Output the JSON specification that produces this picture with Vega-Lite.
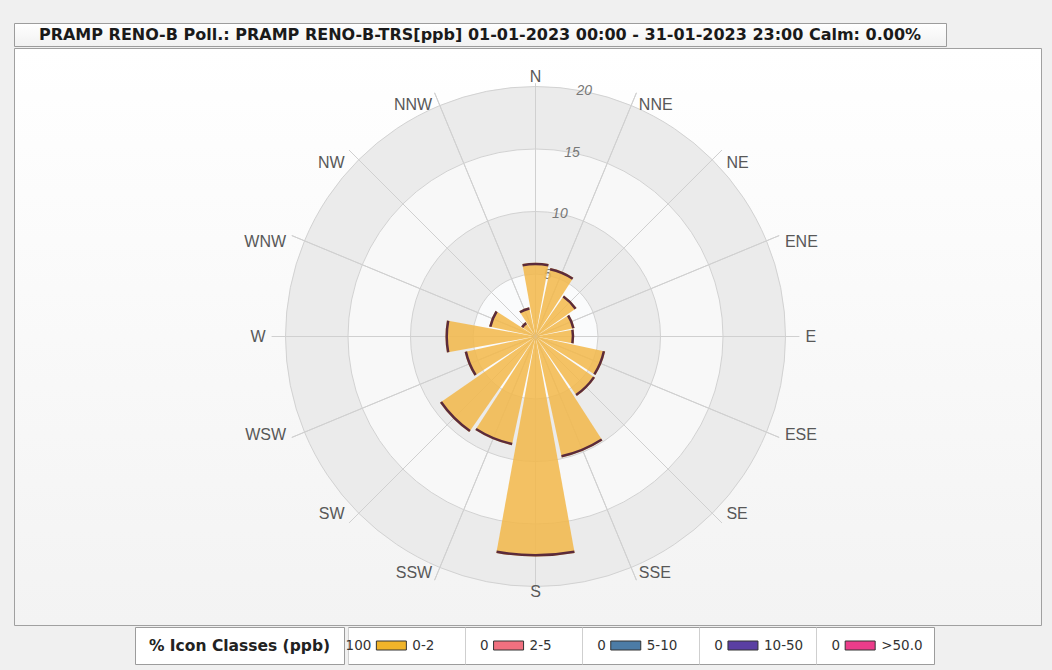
{
  "$schema": "https://vega.github.io/schema/vega-lite/v6.json",
  "background": "#f0f0f0",
  "padding": {"left": 13, "top": 22, "right": 12, "bottom": 11},
  "config": {"view": {"stroke": "#a3a3a3"}, "font": "DejaVu Sans"},
  "datasets": {
    "dirs": [
      {"dir": "N", "deg": 0, "pct": 5.9},
      {"dir": "NNE", "deg": 22.5, "pct": 5.6},
      {"dir": "NE", "deg": 45, "pct": 4.0},
      {"dir": "ENE", "deg": 67.5, "pct": 3.2},
      {"dir": "E", "deg": 90, "pct": 3.1},
      {"dir": "ESE", "deg": 112.5, "pct": 5.7},
      {"dir": "SE", "deg": 135, "pct": 5.8},
      {"dir": "SSE", "deg": 157.5, "pct": 9.9},
      {"dir": "S", "deg": 180, "pct": 17.6},
      {"dir": "SSW", "deg": 202.5, "pct": 8.9},
      {"dir": "SW", "deg": 225, "pct": 9.3},
      {"dir": "WSW", "deg": 247.5, "pct": 5.8},
      {"dir": "W", "deg": 270, "pct": 7.2},
      {"dir": "WNW", "deg": 292.5, "pct": 3.8},
      {"dir": "NW", "deg": 315, "pct": 1.4},
      {"dir": "NNW", "deg": 337.5, "pct": 2.4}
    ],
    "rings": [{"r": 20}, {"r": 15}, {"r": 10}, {"r": 5}],
    "classes": [
      {"cls": "0-2", "pct": 100},
      {"cls": "2-5", "pct": 0},
      {"cls": "5-10", "pct": 0},
      {"cls": "10-50", "pct": 0},
      {"cls": ">50.0", "pct": 0}
    ]
  },
  "spacing": 0,
  "vconcat": [
    {
      "width": 932,
      "height": 23,
      "view": {"stroke": "#9c9c9c", "fill": {"gradient": "linear", "x1": 0, "y1": 0, "x2": 0, "y2": 1, "stops": [{"offset": 0, "color": "#ffffff"}, {"offset": 1, "color": "#f1f1f1"}]}},
      "data": {"values": [{"t": "PRAMP RENO-B Poll.: PRAMP RENO-B-TRS[ppb] 01-01-2023 00:00 - 31-01-2023 23:00 Calm: 0.00%"}]},
      "mark": {"type": "text", "font": "DejaVu Sans", "fontWeight": "bold", "fontSize": 16, "color": "#1a1a1a", "baseline": "middle"},
      "encoding": {"text": {"field": "t"}}
    },
    {
      "width": 1027,
      "height": 577,
      "view": {"stroke": "#a0a0a0", "fill": {"gradient": "linear", "x1": 0, "y1": 0, "x2": 0, "y2": 1, "stops": [{"offset": 0, "color": "#ffffff"}, {"offset": 1, "color": "#f3f3f3"}]}},
      "layer": [
        {
          "data": {"name": "rings"},
          "mark": {"type": "arc", "theta": 0, "theta2": 6.283185307179586, "stroke": "#d2d2d2", "strokeWidth": 1, "x": {"expr": "concat_1_width / 2 + 8"}},
          "encoding": {
            "radius": {"field": "r", "type": "quantitative", "stack": null, "scale": {"type": "linear", "domain": [0, 20], "range": [0, 250], "zero": true}},
            "fill": {"field": "r", "type": "ordinal", "scale": {"domain": [20, 15, 10, 5], "range": ["#ebebeb", "#f8f8f8", "#ebebeb", "#fafbfc"]}, "legend": null}
          }
        },
        {
          "data": {"name": "dirs"},
          "transform": [{"filter": "datum.deg != 0 && datum.deg != 180"}],
          "mark": {"type": "arc", "filled": false, "stroke": "#d0d0d0", "strokeWidth": 1, "x": {"expr": "concat_1_width / 2 + 8"}},
          "encoding": {
            "theta": {"field": "deg", "type": "quantitative", "stack": null, "scale": {"domain": [0, 360], "range": [0, 6.283185307179586]}},
            "theta2": {"field": "deg"},
            "radius": {"datum": 21.1, "type": "quantitative", "stack": null, "scale": {"type": "linear", "domain": [0, 20], "range": [0, 250], "zero": true}}
          }
        },
        {
          "data": {"name": "dirs"},
          "transform": [{"filter": "datum.deg == 0 || datum.deg == 180"}],
          "mark": {"type": "arc", "filled": false, "stroke": "#d0d0d0", "strokeWidth": 1, "x": {"expr": "concat_1_width / 2 + 8"}},
          "encoding": {
            "theta": {"field": "deg", "type": "quantitative", "stack": null, "scale": {"domain": [0, 360], "range": [0, 6.283185307179586]}},
            "theta2": {"field": "deg"},
            "radius": {"datum": 20.25, "type": "quantitative", "stack": null, "scale": {"type": "linear", "domain": [0, 20], "range": [0, 250], "zero": true}}
          }
        },
        {
          "data": {"name": "rings"},
          "mark": {"type": "text", "fontStyle": "italic", "fontSize": 14, "color": "#777777", "font": "Liberation Sans", "align": "center", "baseline": "middle", "x": {"expr": "concat_1_width / 2 + 8"}},
          "encoding": {
            "theta": {"datum": 11.25, "type": "quantitative", "scale": {"domain": [0, 360], "range": [0, 6.283185307179586]}},
            "radius": {"field": "r", "type": "quantitative", "stack": null, "scale": {"type": "linear", "domain": [0, 20], "range": [0, 250], "zero": true}},
            "text": {"field": "r"}
          }
        },
        {
          "data": {"name": "dirs"},
          "mark": {"type": "arc", "fill": "#f2b84b", "fillOpacity": 0.86, "thetaOffset": -0.1789, "theta2Offset": 0.1789, "x": {"expr": "concat_1_width / 2 + 8"}},
          "encoding": {
            "theta": {"field": "deg", "type": "quantitative", "stack": null, "scale": {"domain": [0, 360], "range": [0, 6.283185307179586]}},
            "theta2": {"field": "deg"},
            "radius": {"field": "pct", "type": "quantitative", "stack": null, "scale": {"type": "linear", "domain": [0, 20], "range": [0, 250], "zero": true}}
          }
        },
        {
          "data": {"name": "dirs"},
          "mark": {"type": "arc", "fill": "#5b2b3b", "thetaOffset": -0.1789, "theta2Offset": 0.1789, "radius2Offset": -2.5, "x": {"expr": "concat_1_width / 2 + 8"}},
          "encoding": {
            "theta": {"field": "deg", "type": "quantitative", "stack": null, "scale": {"domain": [0, 360], "range": [0, 6.283185307179586]}},
            "theta2": {"field": "deg"},
            "radius": {"field": "pct", "type": "quantitative", "stack": null, "scale": {"type": "linear", "domain": [0, 20], "range": [0, 250], "zero": true}},
            "radius2": {"field": "pct"}
          }
        },
        {
          "data": {"name": "dirs"},
          "transform": [{"filter": "datum.deg == 22.5 || datum.deg == 45 || datum.deg == 315 || datum.deg == 337.5"}],
          "mark": {"type": "text", "font": "Liberation Sans", "fontSize": 16, "color": "#585858", "align": {"expr": "datum.deg < 180 ? 'left' : 'right'"}, "baseline": "middle", "dy": 17.5, "x": {"expr": "concat_1_width / 2 + 8"}},
          "encoding": {
            "theta": {"field": "deg", "type": "quantitative", "stack": null, "scale": {"domain": [0, 360], "range": [0, 6.283185307179586]}},
            "radius": {"datum": 21.6, "type": "quantitative", "stack": null, "scale": {"type": "linear", "domain": [0, 20], "range": [0, 250], "zero": true}},
            "text": {"field": "dir"}
          }
        },
        {
          "data": {"name": "dirs"},
          "transform": [{"filter": "datum.deg == 67.5 || datum.deg == 292.5"}],
          "mark": {"type": "text", "font": "Liberation Sans", "fontSize": 16, "color": "#585858", "align": {"expr": "datum.deg < 180 ? 'left' : 'right'"}, "baseline": "middle", "dy": 9, "x": {"expr": "concat_1_width / 2 + 8"}},
          "encoding": {
            "theta": {"field": "deg", "type": "quantitative", "stack": null, "scale": {"domain": [0, 360], "range": [0, 6.283185307179586]}},
            "radius": {"datum": 21.6, "type": "quantitative", "stack": null, "scale": {"type": "linear", "domain": [0, 20], "range": [0, 250], "zero": true}},
            "text": {"field": "dir"}
          }
        },
        {
          "data": {"name": "dirs"},
          "transform": [{"filter": "datum.deg == 90 || datum.deg == 270"}],
          "mark": {"type": "text", "font": "Liberation Sans", "fontSize": 16, "color": "#585858", "align": {"expr": "datum.deg < 180 ? 'left' : 'right'"}, "baseline": "middle", "x": {"expr": "concat_1_width / 2 + 8"}},
          "encoding": {
            "theta": {"field": "deg", "type": "quantitative", "stack": null, "scale": {"domain": [0, 360], "range": [0, 6.283185307179586]}},
            "radius": {"datum": 21.6, "type": "quantitative", "stack": null, "scale": {"type": "linear", "domain": [0, 20], "range": [0, 250], "zero": true}},
            "text": {"field": "dir"}
          }
        },
        {
          "data": {"name": "dirs"},
          "transform": [{"filter": "datum.deg == 112.5 || datum.deg == 247.5"}],
          "mark": {"type": "text", "font": "Liberation Sans", "fontSize": 16, "color": "#585858", "align": {"expr": "datum.deg < 180 ? 'left' : 'right'"}, "baseline": "middle", "dy": -5, "x": {"expr": "concat_1_width / 2 + 8"}},
          "encoding": {
            "theta": {"field": "deg", "type": "quantitative", "stack": null, "scale": {"domain": [0, 360], "range": [0, 6.283185307179586]}},
            "radius": {"datum": 21.6, "type": "quantitative", "stack": null, "scale": {"type": "linear", "domain": [0, 20], "range": [0, 250], "zero": true}},
            "text": {"field": "dir"}
          }
        },
        {
          "data": {"name": "dirs"},
          "transform": [{"filter": "datum.deg == 135 || datum.deg == 157.5 || datum.deg == 202.5 || datum.deg == 225"}],
          "mark": {"type": "text", "font": "Liberation Sans", "fontSize": 16, "color": "#585858", "align": {"expr": "datum.deg < 180 ? 'left' : 'right'"}, "baseline": "middle", "dy": -13, "x": {"expr": "concat_1_width / 2 + 8"}},
          "encoding": {
            "theta": {"field": "deg", "type": "quantitative", "stack": null, "scale": {"domain": [0, 360], "range": [0, 6.283185307179586]}},
            "radius": {"datum": 21.6, "type": "quantitative", "stack": null, "scale": {"type": "linear", "domain": [0, 20], "range": [0, 250], "zero": true}},
            "text": {"field": "dir"}
          }
        },
        {
          "data": {"name": "dirs"},
          "transform": [{"filter": "datum.deg == 0 || datum.deg == 180"}],
          "mark": {"type": "text", "font": "Liberation Sans", "fontSize": 16, "color": "#585858", "align": "center", "baseline": "middle", "dy": -2.5, "x": {"expr": "concat_1_width / 2 + 8"}},
          "encoding": {
            "theta": {"field": "deg", "type": "quantitative", "stack": null, "scale": {"domain": [0, 360], "range": [0, 6.283185307179586]}},
            "radius": {"datum": 20.6, "type": "quantitative", "stack": null, "scale": {"type": "linear", "domain": [0, 20], "range": [0, 250], "zero": true}},
            "text": {"field": "dir"}
          }
        }
      ]
    },
    {
      "spacing": 0,
      "hconcat": [
        {
          "width": 120,
          "height": 37,
          "view": {"stroke": null},
          "data": {"values": [{}]},
          "mark": {"type": "text", "text": ""}
        },
        {
          "width": 209,
          "height": 37,
          "view": {"stroke": "#9c9c9c", "fill": "#ffffff"},
          "data": {"values": [{"t": "% Icon  Classes (ppb)"}]},
          "mark": {"type": "text", "font": "DejaVu Sans", "fontWeight": "bold", "fontSize": 15.5, "color": "#222222", "baseline": "middle"},
          "encoding": {"text": {"field": "t"}}
        },
        {
          "width": 586,
          "height": 37,
          "view": {"stroke": "#9c9c9c", "fill": "#ffffff"},
          "data": {"name": "classes"},
          "encoding": {
            "x": {
              "field": "cls",
              "type": "nominal",
              "sort": null,
              "bandPosition": 0.37,
              "scale": {"type": "band", "domain": ["0-2", "2-5", "5-10", "10-50", ">50.0"], "paddingInner": 0, "paddingOuter": 0},
              "axis": {"labels": false, "ticks": false, "domain": false, "title": null, "grid": true, "bandPosition": 0, "gridColor": "#cfcfcf"}
            }
          },
          "layer": [
            {
              "mark": {"type": "point", "shape": "M-1,-0.3H1V0.3H-1Z", "size": 900, "filled": true, "opacity": 1, "stroke": "#333333", "strokeWidth": 1},
              "encoding": {
                "color": {"field": "cls", "type": "nominal", "scale": {"domain": ["0-2", "2-5", "5-10", "10-50", ">50.0"], "range": ["#f0b42a", "#f0707f", "#4c7ca6", "#5a3fa3", "#ec3c8a"]}, "legend": null}
              }
            },
            {
              "mark": {"type": "text", "font": "DejaVu Sans", "fontSize": 13.5, "color": "#333333", "align": "right", "baseline": "middle", "dx": -20},
              "encoding": {"text": {"field": "pct"}}
            },
            {
              "mark": {"type": "text", "font": "DejaVu Sans", "fontSize": 13.5, "color": "#333333", "align": "left", "baseline": "middle", "dx": 21},
              "encoding": {"text": {"field": "cls"}}
            }
          ]
        }
      ]
    }
  ]
}
